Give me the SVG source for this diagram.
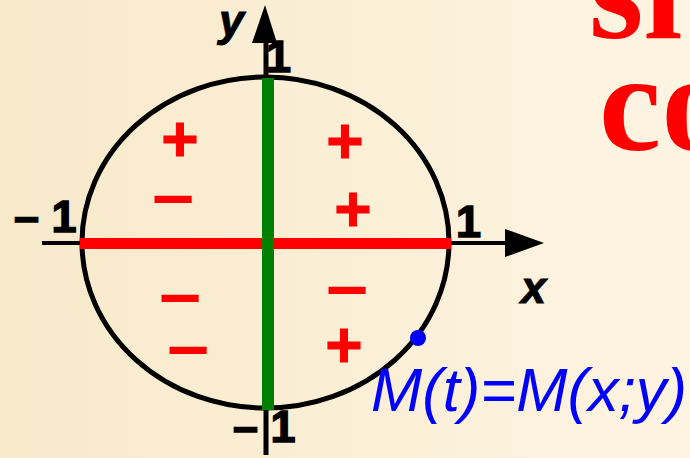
<svg xmlns="http://www.w3.org/2000/svg" width="690" height="458" viewBox="0 0 690 458">
  <defs>
    <linearGradient id="bg" x1="0" y1="0" x2="1" y2="0">
      <stop offset="0" stop-color="#F7E9CA"/>
      <stop offset="1" stop-color="#FEF4E2"/>
    </linearGradient>
    <style>
      .lbl { font-family: "Liberation Sans", Arial, sans-serif; font-weight: bold; font-size: 45px; fill: #000; stroke: #000; stroke-width: 1.5px; }
      .ital { font-style: italic; stroke-width: 1px; }
      .plus { font-family: "Liberation Sans", Arial, sans-serif; font-weight: bold; font-size: 64px; fill: #FF0000; stroke: #FF0000; stroke-width: 1px; text-anchor: middle; }
      .minus { font-family: "Liberation Sans", Arial, sans-serif; font-weight: bold; font-size: 75px; fill: #FF0000; text-anchor: middle; }
      .title { font-family: "Liberation Serif", "Times New Roman", serif; font-weight: bold; font-size: 140px; fill: #FF0000; }
      .axis { stroke: #000; fill: none; }
    </style>
  </defs>
  <rect width="690" height="458" fill="url(#bg)"/>

  <g id="title">
    <text class="title" x="589" y="38">si</text>
    <text class="title" x="599" y="150">co</text>
  </g>

  <g id="connectors">
    <line class="axis" x1="42" y1="243" x2="507" y2="243" stroke-width="4"/>
    <polygon points="505,229 544,243 505,257" fill="#000"/>
    <line class="axis" x1="266" y1="455" x2="266" y2="40" stroke-width="5"/>
    <polygon points="252,43 265,5 277,43" fill="#000"/>
  </g>

  <g id="circle">
    <ellipse cx="265.5" cy="242.5" rx="183.5" ry="165.5" fill="none" stroke="#000" stroke-width="5"/>
  </g>

  <g id="segments">
    <line x1="80" y1="243.5" x2="451" y2="243.5" stroke="#FF0000" stroke-width="11"/>
    <line x1="268" y1="78" x2="268" y2="410" stroke="#008000" stroke-width="12"/>
  </g>

  <g id="signs">
    <text class="plus" x="180" y="161">+</text>
    <text class="minus" x="173" y="219">–</text>
    <text class="plus" x="345" y="163">+</text>
    <text class="plus" x="353" y="231">+</text>
    <text class="minus" x="180" y="318">–</text>
    <text class="minus" x="188" y="370">–</text>
    <text class="minus" x="347" y="310">–</text>
    <text class="plus" x="344" y="367">+</text>
  </g>

  <g id="labels">
    <text class="lbl ital" x="219" y="36">y</text>
    <text class="lbl" x="266" y="72">1</text>
    <text class="lbl" x="14" y="232">– 1</text>
    <text class="lbl" x="456" y="237">1</text>
    <text class="lbl ital" x="521" y="303">x</text>
    <text class="lbl" x="233" y="442">– 1</text>
  </g>

  <g id="point">
    <circle cx="418" cy="338" r="8" fill="#0000FF"/>
    <text x="371" y="411" font-family="Liberation Sans, Arial, sans-serif" font-style="italic" font-size="61" fill="#0000FF" textLength="316" lengthAdjust="spacingAndGlyphs">M(t)=M(x;y)</text>
  </g>
</svg>
